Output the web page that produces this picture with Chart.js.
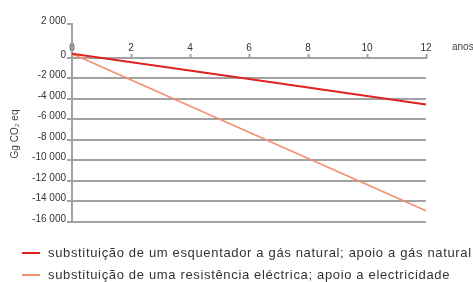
<!DOCTYPE html>
<html><head><meta charset="utf-8">
<script src="https://cdn.jsdelivr.net/npm/chart.js@4/dist/chart.umd.min.js"></script>
<style>
html,body{margin:0;padding:0;background:#fff;}
#wrap{position:relative;width:473px;height:282px;overflow:hidden;}
#c{position:absolute;left:0;top:0;}
.item{position:absolute;white-space:nowrap;font-family:"Liberation Sans",Arial,sans-serif;font-size:13px;letter-spacing:0.66px;color:#333;line-height:16px;height:16px;}
.sw{position:absolute;top:7px;height:2px;}
.tx{position:absolute;top:0;}
</style></head><body>
<div id="wrap"><canvas id="c" width="473" height="282"></canvas><div id="legend"></div></div>
<script>
// ---- data ----
const years = [0, 6, 12];
const seriesLabels = [
  'substituição de um esquentador a gás natural; apoio a gás natural',
  'substituição de uma resistência eléctrica; apoio a electricidade'
];
const gasNatural = [400, -2050, -4550];
const electricidade = [400, -7250, -14900];
const xTicks = [0, 2, 4, 6, 8, 10, 12];
const yTicks = [-16000, -14000, -12000, -10000, -8000, -6000, -4000, -2000, 0];
const yTickLabels = ['-16 000', '-14 000', '-12 000', '-10 000', '-8 000', '-6 000', '-4 000', '-2 000', '0'];
const yTopLabel = '2 000';
const xTitle = 'anos';
const yTitle = 'Gg CO\u2082 eq';
const seriesColors = ['#e0231c', '#f2916f'];

const GRAY = '#a2a2a2';
const Y_AXIS_TOP = 3300; // axis extends above 0 to its "2 000" end mark, as drawn in the reference
Chart.defaults.font.family = '"Liberation Sans", Arial, sans-serif';

const titlesPlugin = {
  id: 'titles',
  afterDraw(chart) {
    const ctx = chart.ctx, ca = chart.chartArea;
    const y0 = chart.scales.y.getPixelForValue(0);
    ctx.save();
    ctx.font = '10px "Liberation Sans", Arial, sans-serif';
    ctx.fillStyle = '#444';
    ctx.textBaseline = 'middle';
    ctx.textAlign = 'left';
    ctx.fillText(xTitle, ca.right + 26, y0 - 10.5);
    ctx.translate(15, 134);
    ctx.rotate(-Math.PI / 2);
    ctx.textAlign = 'center';
    ctx.fillText(yTitle, 0, 0);
    ctx.restore();
  }
};

const mk = (vals) => years.map((x, i) => ({ x, y: vals[i] }));

new Chart(document.getElementById('c'), {
  type: 'line',
  data: {
    datasets: [
      { label: seriesLabels[0], data: mk(gasNatural), borderColor: seriesColors[0], borderWidth: 2, pointRadius: 0, tension: 0, clip: false },
      { label: seriesLabels[1], data: mk(electricidade), borderColor: seriesColors[1], borderWidth: 1.6, pointRadius: 0, tension: 0, clip: false }
    ]
  },
  options: {
    responsive: false,
    animation: false,
    events: [],
    layout: { padding: { left: 0, right: 47, top: 24, bottom: 60 } },
    plugins: { legend: { display: false }, tooltip: { enabled: false } },
    scales: {
      x: {
        type: 'linear',
        position: { y: 0 },
        min: 0, max: 12,
        afterBuildTicks: s => { s.ticks = xTicks.map(v => ({ value: v })); },
        border: { display: true, color: GRAY, width: 2 },
        grid: { drawOnChartArea: false, drawTicks: true, tickLength: -5, tickColor: GRAY, tickWidth: 2 },
        ticks: { padding: -11, font: { size: 10 }, color: '#333', maxRotation: 0, autoSkip: false }
      },
      y: {
        type: 'linear',
        min: -16000, max: Y_AXIS_TOP,
        afterBuildTicks: s => { s.ticks = yTicks.map(v => ({ value: v })).concat([{ value: Y_AXIS_TOP }]); },
        afterFit: s => { s.width = 72; },
        border: { display: true, color: GRAY, width: 2 },
        grid: {
          color: c => (c.tick && c.tick.value === Y_AXIS_TOP) ? 'rgba(0,0,0,0)' : GRAY,
          lineWidth: 2, tickLength: 5, tickColor: GRAY, tickWidth: 2
        },
        ticks: {
          padding: 1, labelOffset: -3, font: { size: 10 }, color: '#333', autoSkip: false,
          callback: (v, i) => i < yTickLabels.length ? yTickLabels[i] : yTopLabel
        }
      }
    }
  },
  plugins: [titlesPlugin]
});

// HTML legend
const leg = document.getElementById('legend');
const rowsY = [245, 267];
seriesLabels.forEach((t, i) => {
  const d = document.createElement('div');
  d.className = 'item';
  d.style.left = '0px';
  d.style.top = rowsY[i] + 'px';
  d.innerHTML = '<span class="sw" style="left:22px;width:18px;background:' + seriesColors[i] + '"></span><span class="tx" style="left:48px">' + t + '</span>';
  leg.appendChild(d);
});
</script>
</body></html>
